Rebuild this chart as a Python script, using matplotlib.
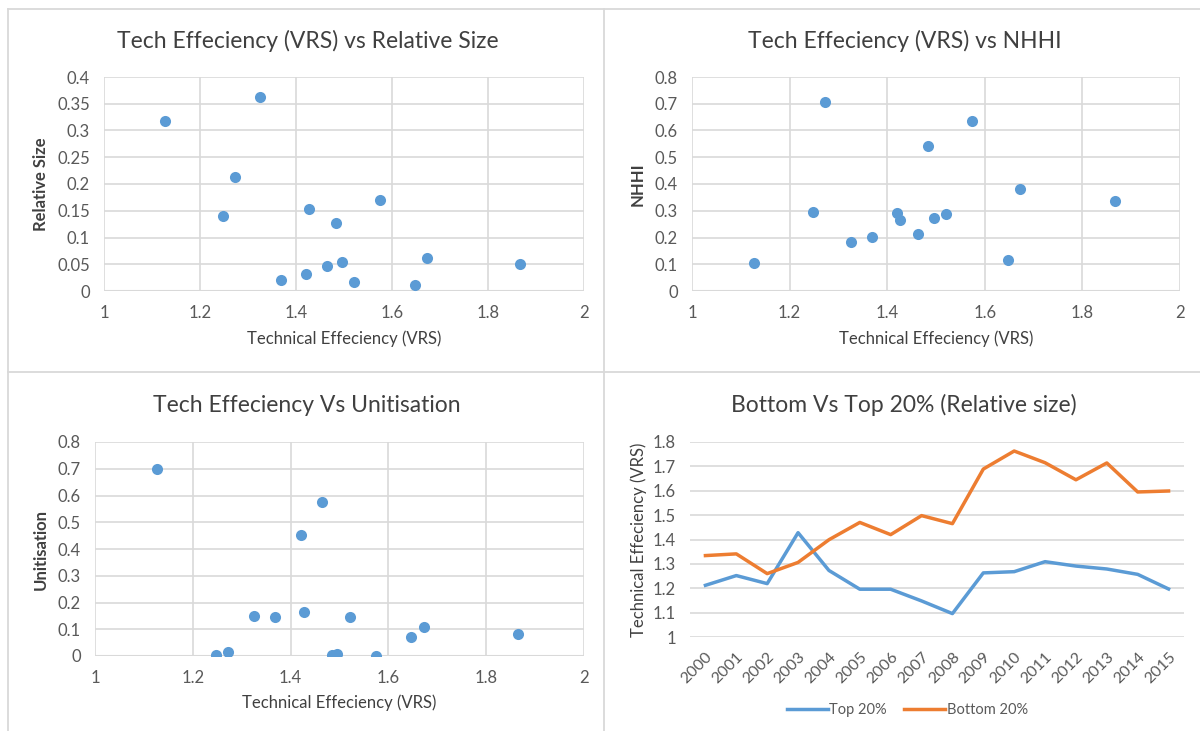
import numpy as np
import matplotlib.pyplot as plt
from matplotlib.lines import Line2D

plt.rcParams['font.family'] = ['Lato', 'DejaVu Sans']

# technical efficiency (VRS) of the 15 units, shared by the three scatters
te = [1.127, 1.247, 1.272, 1.326, 1.369, 1.421, 1.427, 1.464, 1.484, 1.495, 1.521, 1.574, 1.647, 1.672, 1.866]
rel_size = [0.317, 0.141, 0.214, 0.363, 0.021, 0.031, 0.153, 0.047, 0.127, 0.055, 0.017, 0.171, 0.012, 0.061, 0.050]
nhhi = [0.106, 0.294, 0.708, 0.184, 0.201, 0.292, 0.264, 0.213, 0.542, 0.272, 0.289, 0.636, 0.116, 0.383, 0.338]
unitisation = [0.699, 0.002, 0.016, 0.149, 0.146, 0.451, 0.166, 0.575, 0.002, 0.006, 0.146, 0.0, 0.071, 0.107, 0.081]

years = [str(y) for y in range(2000, 2016)]
top20 = [1.212, 1.252, 1.219, 1.428, 1.273, 1.196, 1.196, 1.148, 1.096, 1.263, 1.268, 1.309, 1.291, 1.279, 1.257, 1.197]
bottom20 = [1.334, 1.341, 1.260, 1.306, 1.399, 1.470, 1.420, 1.498, 1.465, 1.689, 1.763, 1.715, 1.645, 1.714, 1.595, 1.599]

W, H = 1200, 731
BLUE = '#5b9bd5'
ORANGE = '#ed7d31'
GRID = '#d9d9d9'
TICK = '#595959'
LABEL = '#404040'

fig = plt.figure(figsize=(W / 100, H / 100), dpi=100)


def px_axes(x0, y_top, x1, y_bot):
    return fig.add_axes([x0 / W, 1 - y_bot / H, (x1 - x0) / W, (y_bot - y_top) / H])


def fline(xs, ys):
    fig.add_artist(Line2D([x / W for x in xs], [1 - y / H for y in ys], color=GRID, lw=1.3))


def ftitle(x, y, s):
    fig.text(x / W, 1 - y / H, s, fontsize=16.5, color=LABEL, ha='center', va='center')


# chart frames
fline([8, 8], [9, 731])
fline([8, 1200], [9, 9])
fline([604, 604], [9, 731])
fline([8, 1200], [372, 372])


def style(ax):
    for s in ax.spines.values():
        s.set_visible(False)
    ax.tick_params(length=0, colors=TICK, labelsize=12)
    ax.tick_params(axis='y', pad=10)
    ax.tick_params(axis='x', pad=10)
    ax.set_axisbelow(True)


def scatter_panel(ax, y, ymax, ystep, ylabel, xl_y, yl_x):
    style(ax)
    ax.grid(True, color=GRID, lw=1.2)
    ax.scatter(te, y, s=64, color=BLUE, zorder=3, linewidths=0)
    ax.set_xlim(1, 2)
    ax.set_ylim(0, ymax)
    ax.set_xticks(np.arange(1, 2.01, 0.2))
    ax.set_xticklabels(['1', '1.2', '1.4', '1.6', '1.8', '2'])
    yt = np.arange(0, ymax + 1e-9, ystep)
    ax.set_yticks(yt)
    ax.set_yticklabels(['0'] + ['%g' % round(v, 2) for v in yt[1:]])
    ax.axhline(0, color=GRID, lw=1.5, zorder=2)
    ax.set_xlabel('Technical Effeciency (VRS)', fontsize=12, color=LABEL)
    ax.set_ylabel(ylabel, fontsize=12, color=LABEL, fontweight='bold')
    ax.xaxis.set_label_coords(0.5, xl_y)
    ax.yaxis.set_label_coords(yl_x, 0.5)


ax1 = px_axes(104, 77, 584, 291)
scatter_panel(ax1, rel_size, 0.4, 0.05, 'Relative Size', -0.185, -0.115)
ftitle(308, 41, 'Tech Effeciency (VRS) vs Relative Size')

ax2 = px_axes(692, 77, 1180, 291)
scatter_panel(ax2, nhhi, 0.8, 0.1, 'NHHI', -0.185, -0.095)
ftitle(905, 41, 'Tech Effeciency (VRS) vs NHHI')

ax3 = px_axes(95, 442, 584, 656)
scatter_panel(ax3, unitisation, 0.8, 0.1, 'Unitisation', -0.18, -0.095)
ftitle(307, 405, 'Tech Effeciency Vs Unitisation')

# line chart
ax4 = px_axes(690, 442, 1184, 637)
style(ax4)
ax4.grid(True, axis='y', color=GRID, lw=1.2)
x = np.arange(len(years))
ax4.plot(x, top20, color=BLUE, lw=2.5, label='Top 20%')
ax4.plot(x, bottom20, color=ORANGE, lw=2.5, label='Bottom 20%')
ax4.set_xlim(-0.5, len(years) - 0.5)
ax4.set_ylim(1, 1.8)
ax4.set_yticks(np.arange(1, 1.81, 0.1))
ax4.set_yticklabels(['1', '1.1', '1.2', '1.3', '1.4', '1.5', '1.6', '1.7', '1.8'])
ax4.set_xticks(x)
ax4.set_xticklabels(years, rotation=45, ha='right', rotation_mode='anchor')
ax4.tick_params(axis='x', pad=9, labelsize=11.5)
ax4.set_ylabel('Technical Effeciency (VRS)', fontsize=12, color=LABEL)
ax4.yaxis.set_label_coords(-0.088, 0.5)
ftitle(904, 405, 'Bottom Vs Top 20% (Relative size)')
ax4.legend(loc='center', bbox_to_anchor=(0.44, -0.375), ncol=2, frameon=False,
           fontsize=10.5, labelcolor=TICK, handlelength=2.8, columnspacing=1.2, handletextpad=0.1)

fig.savefig('out.png', dpi=100)
